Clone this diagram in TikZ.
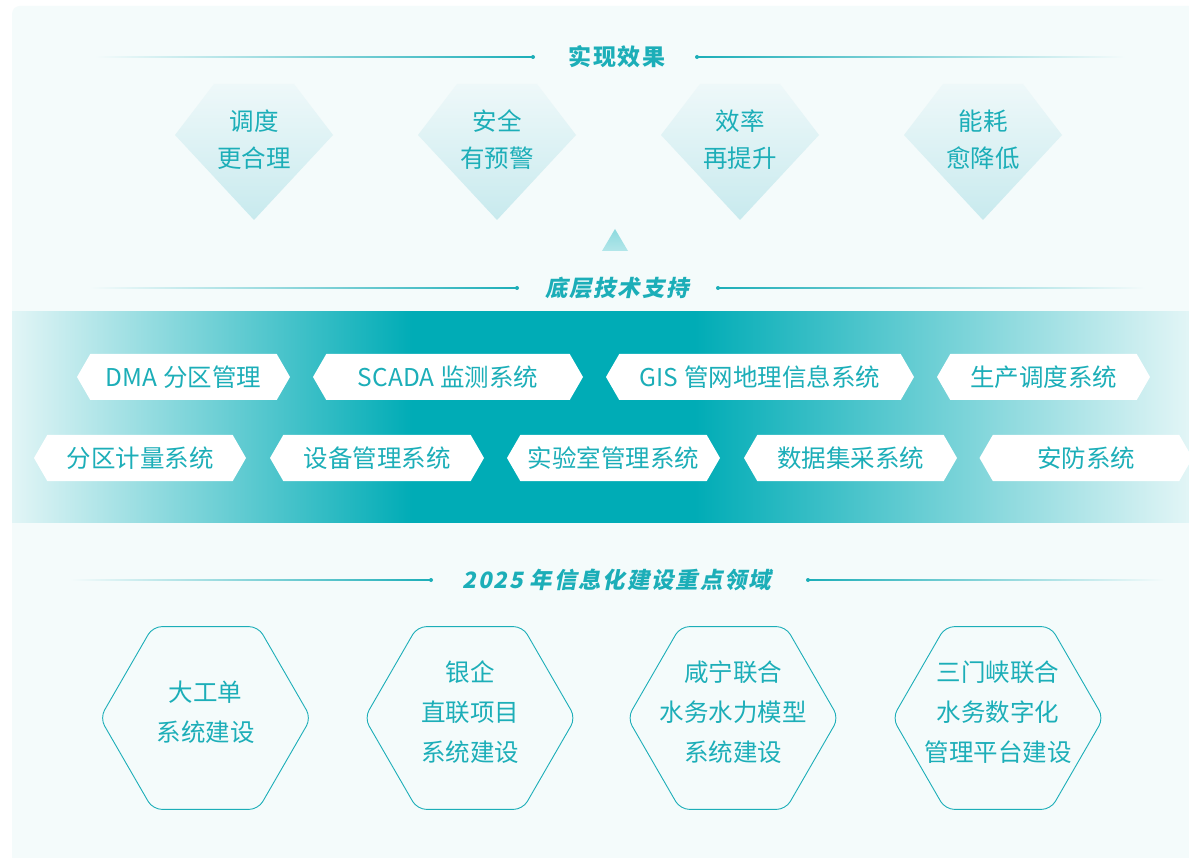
\documentclass[tikz,border=0pt]{standalone}
\usepackage{fontspec}
\usepackage{tikz}
\usetikzlibrary{shapes.symbols,shapes.geometric}
\newfontfamily\cjk{Noto Sans CJK SC}
\newfontfamily\cjkhead[LetterSpace=8]{Noto Sans CJK SC}
\newfontfamily\cjkslant[LetterSpace=8,FakeSlant=0.2]{Noto Sans CJK SC}
\definecolor{panel}{HTML}{F4FBFB}
\definecolor{wteal}{HTML}{00ACB6}
\definecolor{wtext}{HTML}{1CAEB8}
\definecolor{wlight}{HTML}{E2F5F6}
\definecolor{gemtop}{HTML}{EEF8F9}
\definecolor{gembot}{HTML}{C8EAEE}
% the path is mapped onto 25bp--75bp of the shading
\pgfdeclarehorizontalshading{bandshade}{100bp}{color(0bp)=(wlight); color(25bp)=(wlight); color(42bp)=(wteal); color(54bp)=(wteal); color(75bp)=(wlight); color(100bp)=(wlight)}
\tikzset{
x=1pt, y=-1pt, % one unit is one pixel of the layout
heading/.style={text=wtext, font=\cjkhead\bfseries\fontsize{23}{26}\selectfont}, % section titles
slanthead/.style={heading, font=\cjkslant\bfseries\fontsize{22.5}{26}\selectfont},
gemtext/.style={text=wtext, align=center, font=\cjk\fontsize{24.5}{37}\selectfont}, % text in the gems
tagbox/.style={signal, signal to=east and west, signal pointer angle=120, fill=white, minimum height=46pt, inner sep=0pt, text=wtext, font=\cjk\fontsize{24.5}{26}\selectfont}, % white system tags
hexbox/.style={regular polygon, regular polygon sides=6, minimum size=211pt, draw=wtext, line width=0.9pt, rounded corners=9pt, inner sep=0pt},
hextext/.style={text=wtext, align=center, font=\cjk\fontsize{24.5}{40}\selectfont},
}

\begin{document}
\begin{tikzpicture}
\useasboundingbox (0,0) rectangle (1189,858);
\fill[white] (0,0) rectangle (1189,858);
\fill[panel, rounded corners=8pt] (12,6) rectangle (1210,880);

% 实现效果
\node[heading] (effect) at (617,57) {实现效果};
\shade[left color=panel, right color=wtext] (95,56.3) rectangle (533,57.7);
\shade[left color=wtext, right color=panel] (697,56.3) rectangle (1125,57.7);
\fill[wtext] (533,57) circle (2) (697,57) circle (2);
\foreach \cx/\name/\txt in {254/dispatch/{调度\\更合理}, 497/safety/{安全\\有预警}, 740/speed/{效率\\再提升}, 983/energy/{能耗\\愈降低}}{
  \shade[top color=gemtop, bottom color=gembot] (\cx-40,84) -- (\cx+40,84) -- (\cx+79,135) -- (\cx,220) -- (\cx-79,135) -- cycle;
  \node[gemtext] (\name) at (\cx,140) {\txt};
}
\shade[top color=wteal!45, bottom color=wteal!30] (615,229) -- (628,251) -- (602,251) -- cycle;

% 底层技术支持
\node[slanthead] (support) at (617,288) {底层技术支持};
\shade[left color=panel, right color=wtext] (90,287.3) rectangle (517,288.7);
\shade[left color=wtext, right color=panel] (718,287.3) rectangle (1145,288.7);
\fill[wtext] (517,288) circle (2) (718,288) circle (2);
\shade[shading=bandshade] (12,312) rectangle (1189,522);
\node[tagbox, minimum width=213pt] (dma) at (183.5,377) {DMA 分区管理};
\node[tagbox, minimum width=270pt] (scada) at (448,377) {SCADA 监测系统};
\node[tagbox, minimum width=308pt] (gis) at (760,377) {GIS 管网地理信息系统};
\node[tagbox, minimum width=213pt] (dispatchsys) at (1043.5,377) {生产调度系统};
\node[tagbox, minimum width=212pt] (meter) at (140,458) {分区计量系统};
\node[tagbox, minimum width=214pt] (equip) at (377,458) {设备管理系统};
\node[tagbox, minimum width=213pt] (lab) at (613.5,458) {实验室管理系统};
\node[tagbox, minimum width=213pt] (collect) at (850.5,458) {数据集采系统};
\node[tagbox, minimum width=213pt] (guard) at (1086,458) {安防系统};

% 2025 年信息化建设重点领域
\node[slanthead] (focus) at (617,580) {2025 年信息化建设重点领域};
\shade[left color=panel, right color=wtext] (70,579.3) rectangle (431,580.7);
\shade[left color=wtext, right color=panel] (808,579.3) rectangle (1165,580.7);
\fill[wtext] (431,580) circle (2) (808,580) circle (2);
\foreach \cx/\name/\txt in {205.5/order/{大工单\\系统建设}, 470/bank/{银企\\直联项目\\系统建设}, 733/xianning/{咸宁联合\\水务水力模型\\系统建设}, 998/sanmenxia/{三门峡联合\\水务数字化\\管理平台建设}}{
  \node[hexbox] (\name) at (\cx,718) {};
  \node[hextext] (\name-text) at (\cx,712) {\txt};
}
\end{tikzpicture}
\end{document}
